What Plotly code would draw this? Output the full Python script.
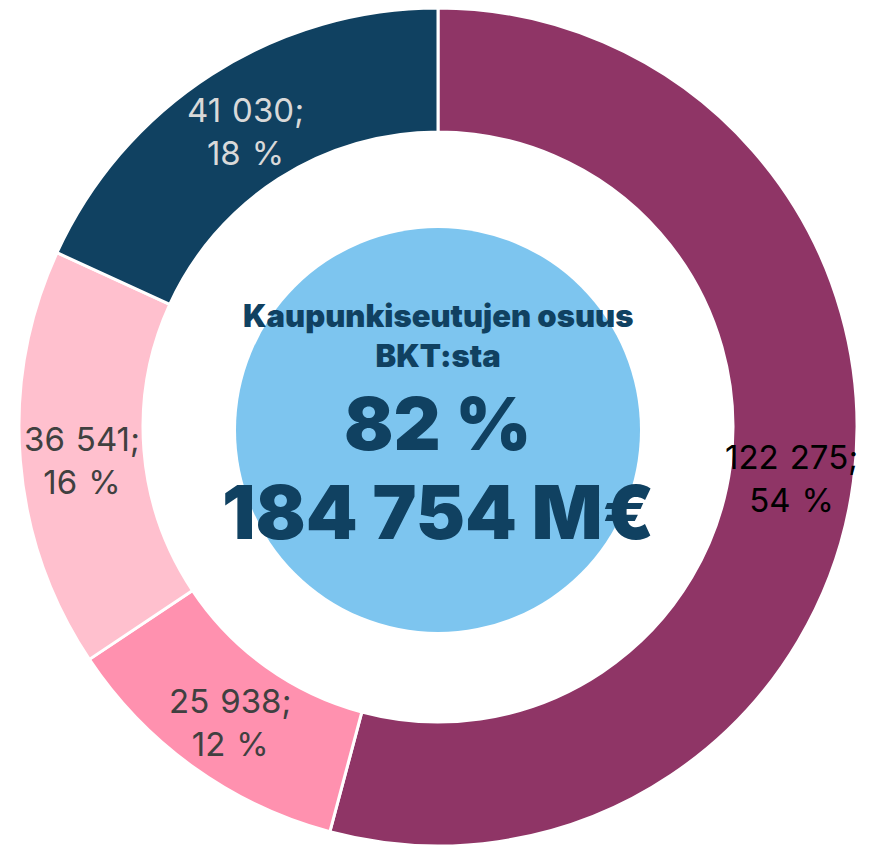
import math
import plotly.graph_objs as go

# BKT osuudet (M€), myötäpäivään klo 12:sta alkaen
groups = ["A", "B", "C", "D"]
values = [122275, 25938, 36541, 41030]
pct_labels = ["54", "12", "16", "18"]
slice_colors = ["#8F3566", "#FF91AF", "#FFC0CE", "#104161"]
label_colors = ["#000000", "#404040", "#404040", "#D9D9D9"]

center_title = "Kaupunkiseutujen osuus<br>BKT:sta"
center_share = "82 %"
center_total = "184 754 M€"

W, H = 871, 854
OFF = 8  # sivun body-marginaali
cx, cy, R = 438 - OFF, 427 - OFF, 419
hole = 0.704


def px(x):
    return x / W


def py(y):
    # y ruudun koordinaateissa ylhäältä -> paper
    return (H - (y - OFF)) / H


fig = go.Figure()
fig.add_trace(go.Pie(
    labels=groups, values=values,
    sort=False, direction='clockwise', rotation=0, hole=hole,
    marker=dict(colors=slice_colors, line=dict(color='white', width=3)),
    textinfo='none', hoverinfo='label+value+percent', showlegend=False,
    domain=dict(x=[(cx - R) / W, (cx + R) / W], y=[(H - cy - R) / H, (H - cy + R) / H]),
))

# arvolaput siivujen keskikulmaan, renkaan keskelle
total = sum(values)
r_mid = R * (1 + hole) / 2
sp = "\u2004"
cum = 0
for v, p, c in zip(values, pct_labels, label_colors):
    a = 2 * math.pi * (cum + v / 2) / total
    cum += v
    fig.add_annotation(
        text=f"{v:,}".replace(",", sp) + f";<br>{p}{sp}%",
        x=(cx + r_mid * math.sin(a)) / W, y=(H - cy + r_mid * math.cos(a) - 5) / H,
        xref='paper', yref='paper', xanchor='center', yanchor='middle', showarrow=False,
        font=dict(family='Inter', size=33, color=c))

# vaaleansininen ympyrä keskellä
r2 = 202
ccy = 430 - OFF
fig.add_shape(type='circle', xref='paper', yref='paper',
              x0=(cx - r2) / W, x1=(cx + r2) / W,
              y0=(H - ccy - r2) / H, y1=(H - ccy + r2) / H,
              fillcolor='#7DC5EF', line=dict(width=0), layer='above')

navy = '#104161'
for txt, y, size in [(center_title, 335, 31), (center_share, 423, 73), (center_total, 512, 74)]:
    fig.add_annotation(text=txt, x=px(cx), y=py(y), xref='paper', yref='paper',
                       xanchor='center', yanchor='middle', showarrow=False,
                       font=dict(family='Inter', size=size, color=navy, weight=900))

fig.update_layout(width=W, height=H, margin=dict(l=0, r=0, t=0, b=0),
                  paper_bgcolor='white', plot_bgcolor='white')

fig.write_html("out.html")
